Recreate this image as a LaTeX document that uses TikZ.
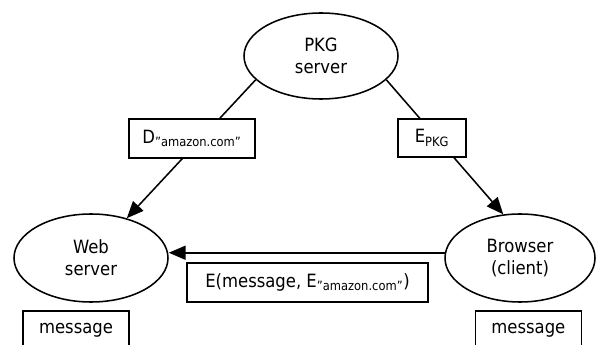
\documentclass[tikz,border=0pt]{standalone}
\usepackage{fontspec}
\setmainfont{DejaVu Sans Condensed}
\usetikzlibrary{shapes.geometric,arrows.meta}

\tikzset{
  party/.style={draw,ellipse,line width=1.1pt,inner sep=0pt,align=center},
  msgbox/.style={draw,fill=white,line width=1.1pt,inner sep=0pt},
  flow/.style={line width=1.1pt,-{Triangle[length=12pt,width=10pt]}}
}

\begin{document}
\begin{tikzpicture}[font=\fontsize{13}{15.6}\selectfont]
\useasboundingbox (0,0) rectangle (14.9,8.6);
% the three parties
\node[party,minimum width=3.85cm,minimum height=2.15cm] (pkg) at (8.025,7.2) {PKG\\server};
\node[party,minimum width=3.85cm,minimum height=2.2cm] (web) at (2.275,2.15) {Web\\server};
\node[party,minimum width=3.75cm,minimum height=2.2cm] (browser) at (13.0,2.15) {Browser\\(client)};
% key distribution
\draw[flow] (pkg.200) -- (web.48);
\draw[flow] (pkg.-20) -- (browser.111);
\node[msgbox,minimum width=3.15cm,minimum height=0.975cm] (dkey) at (4.8,5.14)
  {D\textsubscript{”amazon.com”}};
\node[msgbox,minimum width=1.7cm,minimum height=0.95cm] (ekey) at (10.8,5.15)
  {E\textsubscript{PKG}};
% encrypted message
\draw[flow] (browser.176) -- (browser.176 -| web.east);
\node[msgbox,minimum width=6.025cm,minimum height=0.975cm] (cipher) at (7.69,1.54)
  {E(message, E\textsubscript{”amazon.com”})};
% plain messages
\node[msgbox,minimum width=2.65cm,minimum height=0.975cm] (plainweb) at (1.9,0.34) {message};
\node[msgbox,minimum width=2.65cm,minimum height=0.975cm] (plainbr) at (13.21,0.34) {message};
\end{tikzpicture}
\end{document}
